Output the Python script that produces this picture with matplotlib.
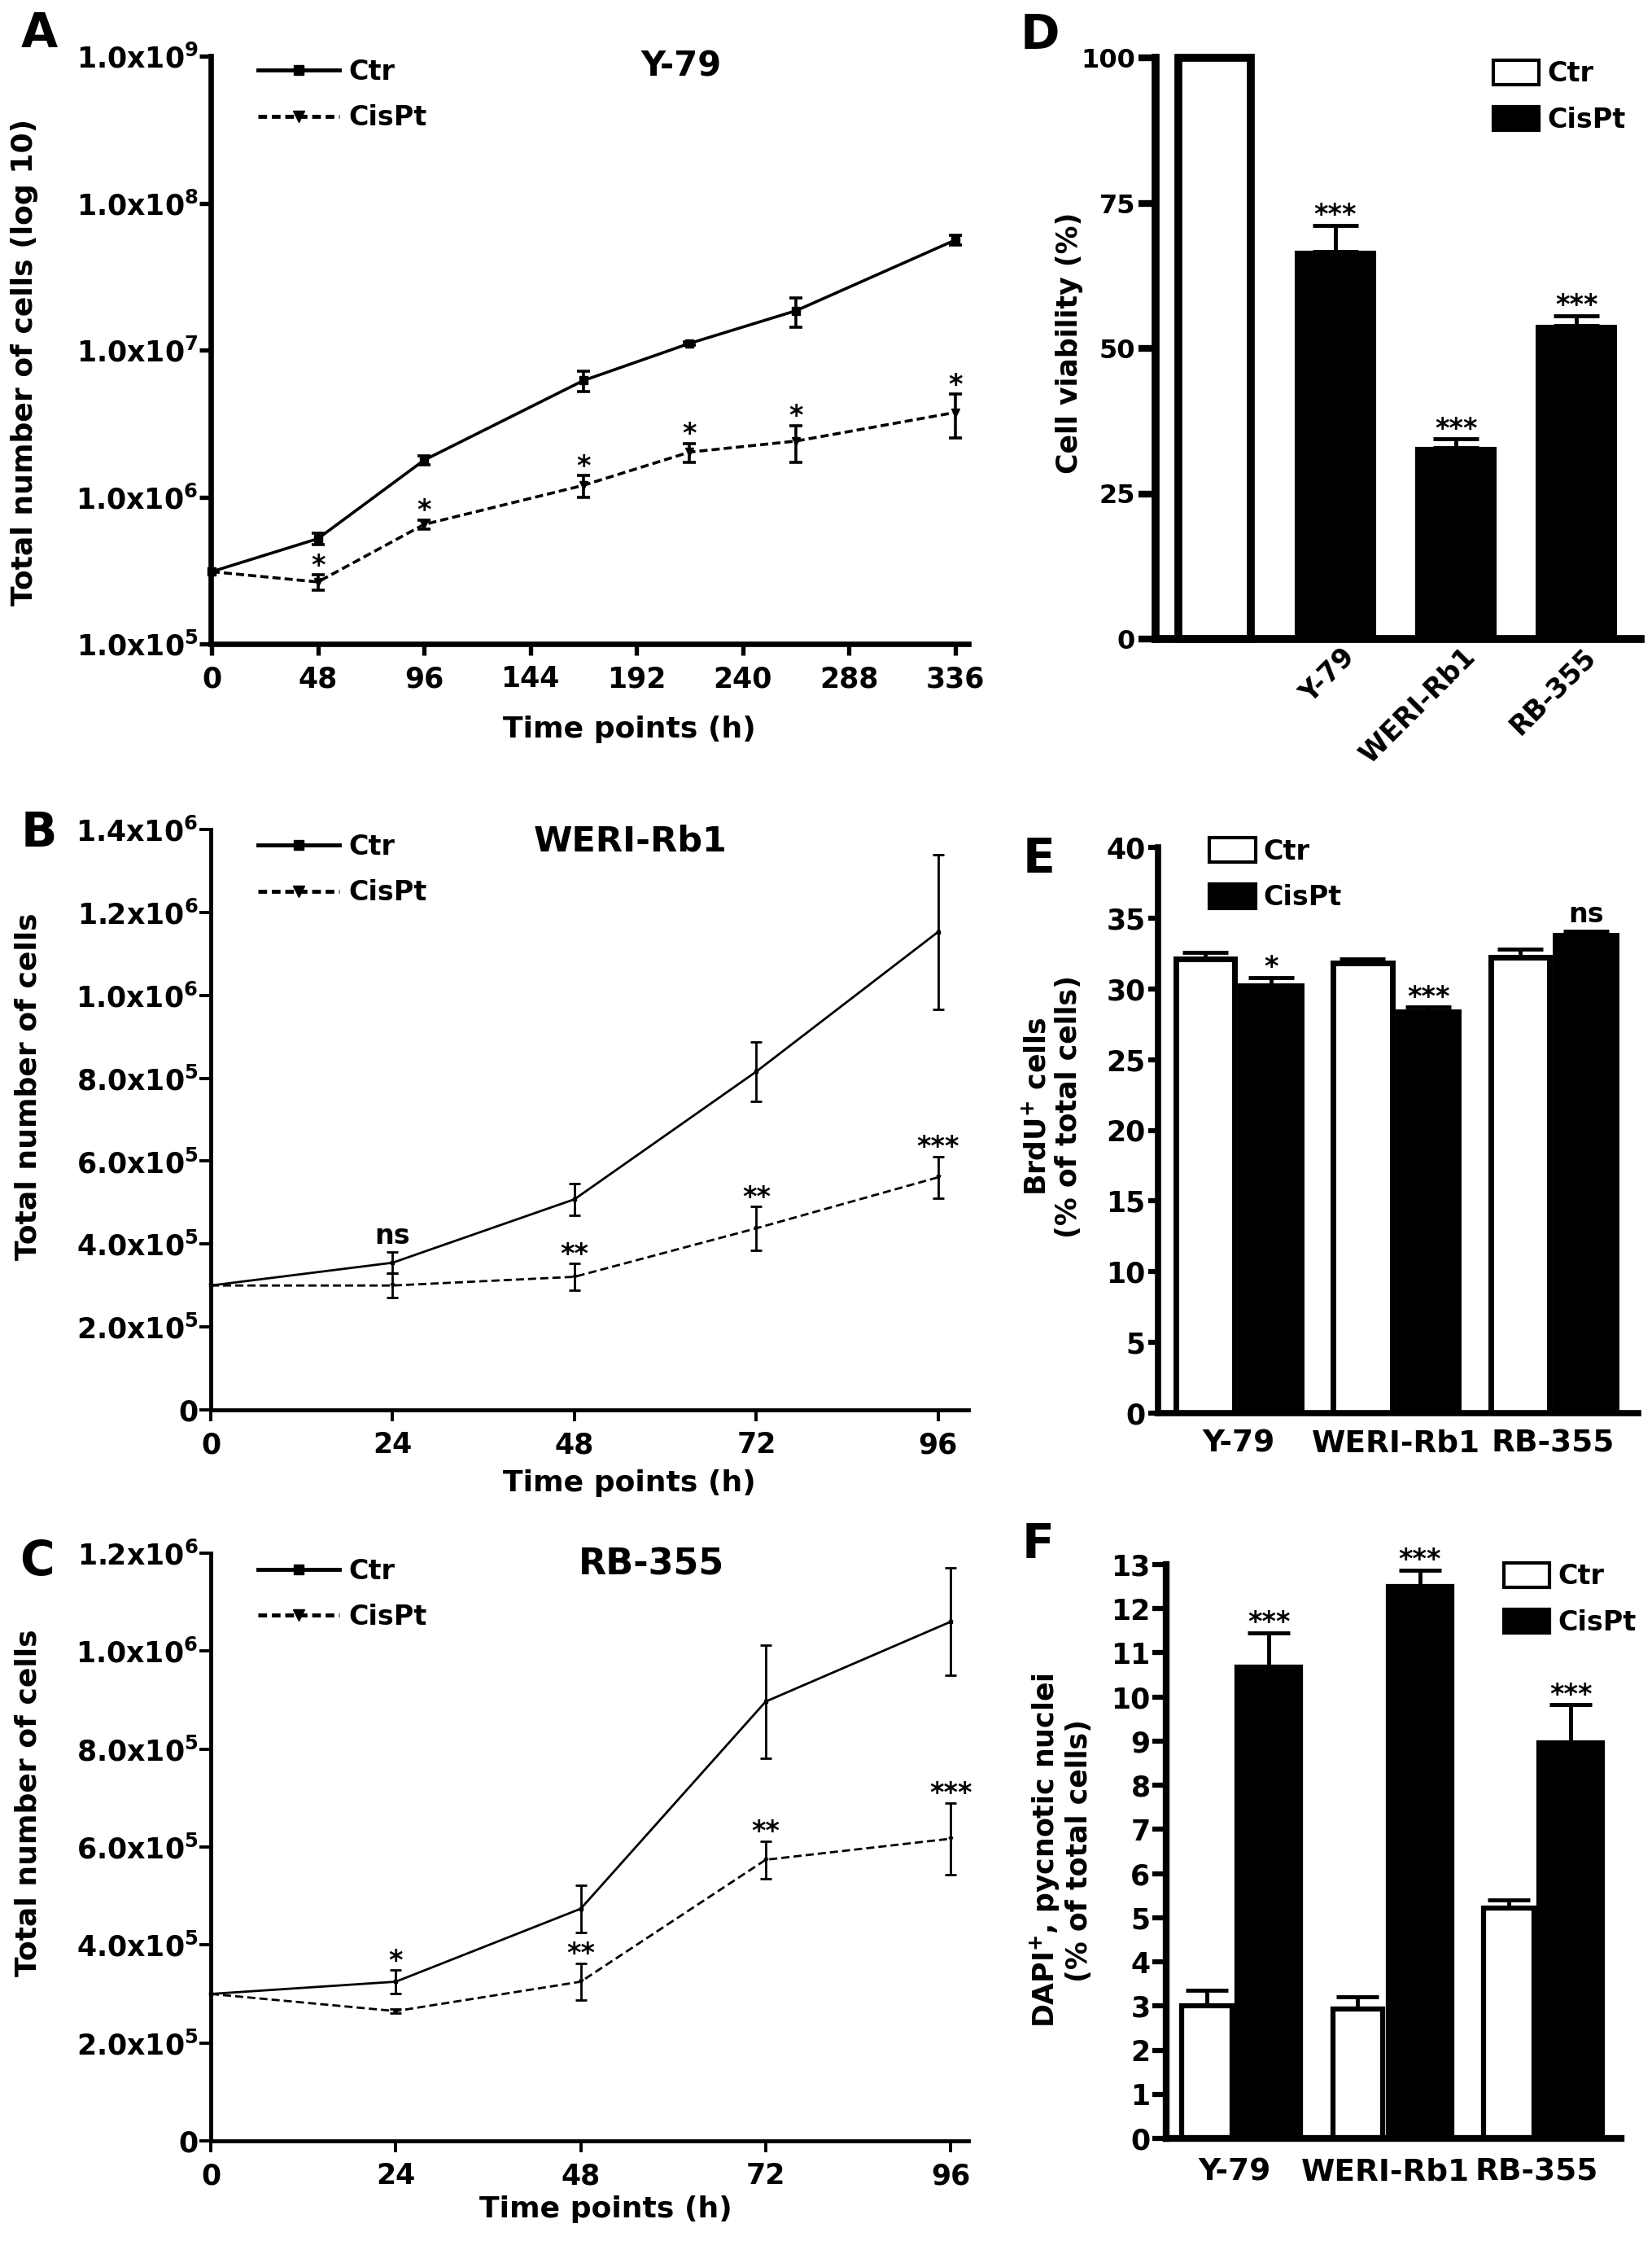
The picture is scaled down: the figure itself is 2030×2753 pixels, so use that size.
import numpy as np
import matplotlib.pyplot as plt
import matplotlib.transforms as mtransforms
from matplotlib.lines import Line2D
from matplotlib.patches import Patch
from matplotlib.ticker import FuncFormatter, NullLocator

plt.rcParams['font.family'] = ['DejaVu Sans']
plt.rcParams['font.weight'] = 'bold'
plt.rcParams['axes.labelweight'] = 'bold'
plt.rcParams['mathtext.fontset'] = 'dejavusans'
plt.rcParams['mathtext.default'] = 'bf'

# A: Y-79 growth curve (log scale)
a_time = [0, 48, 96, 168, 216, 264, 336]
a_ctr = [3.1e5, 5.2e5, 1.78e6, 6.2e6, 1.11e7, 1.85e7, 5.6e7]
a_ctr_sem = [0, 4.8e4, 1.3e5, 9.7e5, 3.0e5, 4.2e6, 4.3e6]
a_cis = [3.1e5, 2.64e5, 6.5e5, 1.2e6, 2.02e6, 2.4e6, 3.76e6]
a_cis_sem = [0, 3.2e4, 4.9e4, 2.0e5, 2.9e5, 6.7e5, 1.23e6]
a_sig = ['', '*', '*', '*', '*', '*', '*']

# B: WERI-Rb1 growth curve
b_time = [0, 24, 48, 72, 96]
b_ctr = [3.0e5, 3.55e5, 5.08e5, 8.16e5, 1.153e6]
b_ctr_sem = [0, 2.6e4, 3.8e4, 7.1e4, 1.87e5]
b_cis = [3.0e5, 3.0e5, 3.21e5, 4.38e5, 5.61e5]
b_cis_sem = [0, 3.0e4, 3.2e4, 5.3e4, 5.0e4]
b_sig = ['', 'ns', '**', '**', '***']

# C: RB-355 growth curve
c_time = [0, 24, 48, 72, 96]
c_ctr = [3.0e5, 3.25e5, 4.74e5, 8.97e5, 1.06e6]
c_ctr_sem = [0, 2.4e4, 4.8e4, 1.16e5, 1.1e5]
c_cis = [3.0e5, 2.65e5, 3.25e5, 5.74e5, 6.17e5]
c_cis_sem = [0, 4e3, 3.8e4, 3.8e4, 7.3e4]
c_sig = ['', '*', '**', '**', '***']

cell_lines = ['Y-79', 'WERI-Rb1', 'RB-355']

# D: cell viability (%)
d_ctr = 100
d_cis = [66.7, 32.85, 53.9]
d_cis_sem = [4.5, 1.55, 1.7]
d_sig = ['***', '***', '***']

# E: BrdU+ cells (%)
e_ctr = [32.1, 31.85, 32.25]
e_ctr_sem = [0.5, 0.25, 0.55]
e_cis = [30.2, 28.35, 33.8]
e_cis_sem = [0.6, 0.35, 0.25]
e_sig = ['*', '***', 'ns']

# F: DAPI+ pycnotic nuclei (%)
f_ctr = [3.0, 2.93, 5.22]
f_ctr_sem = [0.35, 0.27, 0.18]
f_cis = [10.67, 12.5, 8.96]
f_cis_sem = [0.79, 0.37, 0.86]
f_sig = ['***', '***', '***']

W, H = 2031, 2753
fig = plt.figure(figsize=(W / 100, H / 100), dpi=100)


def px_axes(left, top, right, bottom):
    return fig.add_axes([left / W, 1 - bottom / H, (right - left) / W, (bottom - top) / H])


def sci_label(v, pos):
    if v <= 0:
        return '0'
    e = int(np.floor(np.log10(v) + 1e-9))
    return '%.1fx10$^{%d}$' % (v / 10 ** e, e)


def style_axes(ax, spine_w, tick_len, tick_w, fs, xpad, ypad):
    for s in ['top', 'right']:
        ax.spines[s].set_visible(False)
    for s in ['left', 'bottom']:
        ax.spines[s].set_linewidth(spine_w)
    ax.tick_params(axis='both', length=tick_len, width=tick_w, labelsize=fs, direction='out')
    ax.tick_params(axis='x', pad=xpad)
    ax.tick_params(axis='y', pad=ypad)


def to_frac(ax, x, y):
    return ax.transAxes.inverted().transform(ax.transData.transform((x, y)))[1]


def mark_sig(ax, t, ctr, ctr_sem, cis, cis_sem, sig, fs):
    for i, s in enumerate(sig):
        if not s:
            continue
        cis_top = cis[i] + cis_sem[i]
        ctr_top = ctr[i] + ctr_sem[i]
        gap = to_frac(ax, t[i], ctr[i] - ctr_sem[i]) - to_frac(ax, t[i], cis_top)
        anchor = ctr_top if gap < 0.04 else cis_top
        off = 7 if s == 'ns' else 1
        ax.annotate(s, (t[i], anchor), xytext=(0, off), textcoords='offset points',
                    ha='center', va='baseline', fontsize=fs, weight='bold')


def growth(ax, t, ctr, ctr_sem, cis, cis_sem, sig, title, title_xy, title_fs,
           lw, ms, cap, spine_w, leg_top):
    dash = (0, (7.2 / lw, 3.6 / lw))
    ax.errorbar(t, ctr, yerr=ctr_sem, color='k', lw=lw, marker='s', ms=ms,
                capsize=cap, capthick=lw, elinewidth=lw, errorevery=(1, 1), clip_on=False, zorder=3)
    ax.errorbar(t, cis, yerr=cis_sem, color='k', lw=lw, ls=dash, marker='v', ms=ms,
                capsize=cap, capthick=lw, elinewidth=lw, errorevery=(1, 1), clip_on=False, zorder=3)
    style_axes(ax, spine_w, 10, spine_w * 0.8, 25, 9, 1)
    ax.set_xticks(t if len(t) == 5 else range(0, 337, 48))
    ax.set_xlabel('Time points (h)', fontsize=26)
    ax.text(title_xy[0], title_xy[1], title, transform=ax.transAxes, ha='center', va='center',
            fontsize=title_fs, weight='bold')
    handles = [Line2D([], [], color='k', lw=3.5, marker='s', ms=9),
               Line2D([], [], color='k', lw=3.5, ls=(0, (2.2, 1.2)), marker='v', ms=10)]
    ax.legend(handles, ['Ctr', 'CisPt'], loc='upper left', bbox_to_anchor=(0.062, leg_top),
              frameon=False, fontsize=24, handlelength=3.0, handletextpad=0.35,
              labelspacing=0.7, borderpad=0, borderaxespad=0)


# ---------------- A ----------------
axA = px_axes(259, 69, 1190, 791)
axA.set_yscale('log')
axA.set_xlim(-0.4, 342)
axA.set_ylim(1e5, 1e9)
growth(axA, a_time, a_ctr, a_ctr_sem, a_cis, a_cis_sem, a_sig, 'Y-79', (0.621, 0.982), 30,
       2.6, 7, 6, 4.8, 0.996)
axA.set_yticks([1e5, 1e6, 1e7, 1e8, 1e9])
axA.yaxis.set_minor_locator(NullLocator())
axA.yaxis.set_major_formatter(FuncFormatter(sci_label))
axA.set_ylabel('Total number of cells (log 10)', fontsize=26)
axA.yaxis.set_label_coords(-0.246, 0.48)
axA.xaxis.set_label_coords(0.553, -0.145)
mark_sig(axA, a_time, a_ctr, a_ctr_sem, a_cis, a_cis_sem, a_sig, 24)

# ---------------- B ----------------
axB = px_axes(259, 1019, 1190, 1732)
axB.set_xlim(0, 100)
axB.set_ylim(0, 1.4e6)
growth(axB, b_time, b_ctr, b_ctr_sem, b_cis, b_cis_sem, b_sig, 'WERI-Rb1', (0.554, 0.98), 31,
       2.0, 3.5, 4.7, 3.5, 0.993)
axB.set_yticks(np.arange(0, 1.41e6, 2e5))
axB.yaxis.set_major_formatter(FuncFormatter(sci_label))
axB.set_ylabel('Total number of cells', fontsize=26)
axB.yaxis.set_label_coords(-0.241, 0.557)
axB.xaxis.set_label_coords(0.553, -0.126)
mark_sig(axB, b_time, b_ctr, b_ctr_sem, b_cis, b_cis_sem, b_sig, 24)

# ---------------- C ----------------
axC = px_axes(259, 1908, 1190, 2630)
axC.set_xlim(0, 98.3)
axC.set_ylim(0, 1.2e6)
growth(axC, c_time, c_ctr, c_ctr_sem, c_cis, c_cis_sem, c_sig, 'RB-355', (0.582, 0.98), 32,
       2.0, 3.5, 4.7, 3.5, 0.992)
axC.set_yticks(np.arange(0, 1.21e6, 2e5))
axC.yaxis.set_major_formatter(FuncFormatter(sci_label))
axC.set_ylabel('Total number of cells', fontsize=26)
axC.yaxis.set_label_coords(-0.241, 0.575)
axC.xaxis.set_label_coords(0.521, -0.116)
mark_sig(axC, c_time, c_ctr, c_ctr_sem, c_cis, c_cis_sem, c_sig, 24)

for ax in (axA, axB, axC):
    ax.yaxis.label.set_va('center')
    ax.xaxis.label.set_va('center')


def bar_legend(ax, x, y, lw):
    handles = [Patch(facecolor='white', edgecolor='black', lw=lw),
               Patch(facecolor='black', edgecolor='black', lw=lw)]
    ax.legend(handles, ['Ctr', 'CisPt'], loc='upper left', bbox_to_anchor=(x, y), frameon=False,
              fontsize=24, handlelength=1.7, handleheight=1.0, handletextpad=0.3,
              labelspacing=0.7, borderpad=0, borderaxespad=0)


# ---------------- D ----------------
axD = px_axes(1420, 71, 2016, 785)
xd = np.arange(len(cell_lines) + 1)
axD.bar(xd[0], d_ctr, width=0.6, color='white', edgecolor='black', lw=7, clip_on=False, zorder=2)
axD.bar(xd[1:], d_cis, width=0.66, color='black', edgecolor='black', lw=1.5, zorder=2)
axD.errorbar(xd[1:], d_cis, yerr=[np.zeros(3), d_cis_sem], fmt='none', ecolor='k',
             elinewidth=3.5, capsize=20, capthick=3.5, zorder=1)
for x, v, e, s in zip(xd[1:], d_cis, d_cis_sem, d_sig):
    axD.annotate(s, (x, v + e), xytext=(0, 2), textcoords='offset points', ha='center',
                 va='baseline', fontsize=24, weight='bold')
axD.set_xlim(-0.49, 3.53)
axD.set_ylim(0, 100)
style_axes(axD, 7, 15, 6, 23, 12, 3)
axD.tick_params(axis='x', length=0, labelsize=24)
axD.set_yticks([0, 25, 50, 75, 100])
axD.set_xticks(xd[1:])
axD.set_xticklabels(cell_lines, rotation=45, ha='right', va='center', rotation_mode='anchor')
shift = mtransforms.ScaledTranslation(0.19, 0, fig.dpi_scale_trans)
for lbl in axD.get_xticklabels():
    lbl.set_transform(lbl.get_transform() + shift)
axD.set_ylabel('Cell viability (%)', fontsize=25)
axD.yaxis.set_label_coords(-0.178, 0.509)
axD.yaxis.label.set_va('center')
bar_legend(axD, 0.696, 0.996, 3)


def grouped(ax, ctr, ctr_sem, cis, cis_sem, sig, off_ctr, w_ctr, off_cis, w_cis, lw, cap, elw, ns_off):
    x = np.arange(len(cell_lines))
    ax.errorbar(x + off_ctr, ctr, yerr=[np.zeros(3), ctr_sem], fmt='none', ecolor='k',
                elinewidth=elw, capsize=cap, capthick=elw, zorder=1)
    ax.errorbar(x + off_cis, cis, yerr=[np.zeros(3), cis_sem], fmt='none', ecolor='k',
                elinewidth=elw, capsize=cap, capthick=elw, zorder=1)
    ax.bar(x + off_ctr, ctr, width=w_ctr, color='white', edgecolor='black', lw=lw, zorder=2)
    ax.bar(x + off_cis, cis, width=w_cis, color='black', edgecolor='black', lw=lw, zorder=2)
    for xi, v, e, s in zip(x + off_cis, cis, cis_sem, sig):
        ax.annotate(s, (xi, v + e), xytext=(0, ns_off if s == 'ns' else 2), textcoords='offset points',
                    ha='center', va='baseline', fontsize=24, weight='bold')
    ax.set_xticks(x)
    ax.set_xticklabels(cell_lines)


# ---------------- E ----------------
axE = px_axes(1423, 1041, 2013, 1736)
grouped(axE, e_ctr, e_ctr_sem, e_cis, e_cis_sem, e_sig, -0.21, 0.375, 0.207, 0.385, 5, 20, 3.5, 8)
axE.set_xlim(-0.51, 2.54)
axE.set_ylim(0, 40)
style_axes(axE, 5.5, 9, 4.5, 25, 14, 2)
axE.tick_params(axis='x', length=0, labelsize=27)
axE.set_yticks(range(0, 41, 5))
axE.set_ylabel('BrdU$^{+}$ cells\n(% of total cells)', fontsize=25, linespacing=1.15)
axE.yaxis.set_label_coords(-0.22, 0.542)
axE.yaxis.label.set_va('center')
bar_legend(axE, 0.107, 1.017, 3)

# ---------------- F ----------------
axF = px_axes(1433, 1922, 1992, 2627)
grouped(axF, f_ctr, f_ctr_sem, f_cis, f_cis_sem, f_sig, -0.183, 0.33, 0.2275, 0.42, 4.5, 19, 3.5, 8)
axF.set_xlim(-0.452, 2.561)
axF.set_ylim(0, 13)
style_axes(axF, 6, 12, 4.5, 25, 17, 2)
axF.tick_params(axis='x', length=0, labelsize=27)
axF.set_yticks(range(0, 14))
axF.set_ylabel('DAPI$^{+}$, pycnotic nuclei\n(% of total cells)', fontsize=25, linespacing=1.15)
axF.yaxis.set_label_coords(-0.233, 0.502)
axF.yaxis.label.set_va('center')
bar_legend(axF, 0.742, 1.003, 3)

# panel letters
for letter, (x, y) in zip('ABCDEF', [(48, 42), (48, 1024), (46, 1919), (1278, 44), (1277, 1055), (1276, 1898)]):
    fig.text(x / W, 1 - y / H, letter, fontsize=42, weight='bold', ha='center', va='center')

fig.savefig('out.png', dpi=100)
